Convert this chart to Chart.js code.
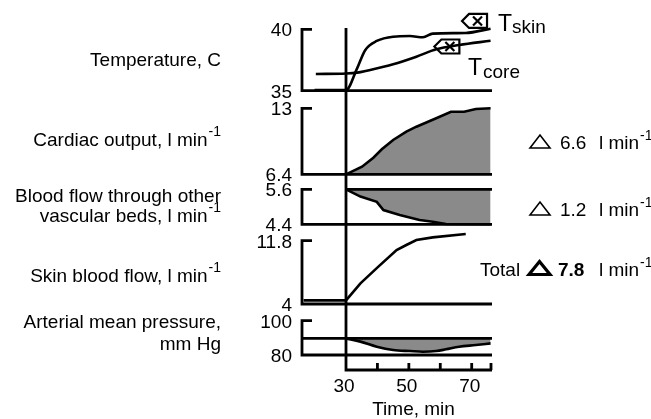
<!DOCTYPE html>
<html>
<head>
<meta charset="utf-8">
<style>
html,body{margin:0;padding:0;background:#fff;}
</style>
<script src="https://cdn.jsdelivr.net/npm/chart.js@4"></script>
</head>
<body>
<canvas id="myChart" width="651" height="419"></canvas>
<script>
'use strict'
// values, time in min
let tempTicks=[35,40];
let cardiacTicks=[6.4,13];
let otherTicks=[4.4,5.6];
let skinTicks=[4,11.8];
let pressureTicks=[80,100];

let timeTicks=[30,40,50,60,70];
let timeLabels=[30,50,70];
let heatStart=30;

let tSkinTime=[20,30,33.5,36.1,39.8,45,50.3,54.5,57.6,68.1,76];
let tSkinVal=[35.05,35.05,36.8,38.3,39.05,39.4,39.45,39.35,39.65,39.7,40.05];

let tCoreTime=[20.4,30,33.5,37.7,45,52.4,58.7,66,76];
let tCoreVal=[36.36,36.4,36.47,36.69,37.15,37.77,38.37,38.72,39.07];

let cardiacTime=[30,35.1,38.7,41.4,45,49.2,52.4,58.7,63.4,67.6,71.3,76];
let cardiacVal=[6.4,7.16,8.06,8.9,9.83,10.66,11.16,12.0,12.66,12.66,12.93,13.0];

let otherTime=[30,34.6,39.8,41.9,47.1,53.4,57.6,61.8,76];
let otherVal=[5.6,5.35,5.17,4.89,4.72,4.55,4.49,4.41,4.4];

let skinTime=[16.5,30,34.6,40.3,46.1,49.2,52.4,57.6,68.1];
let skinVal=[4.45,4.45,6.55,8.6,10.65,11.27,11.88,12.21,12.62];

let pressureBase=89.7;
let pressureTime=[30,34.6,39.8,45,50.3,54.5,58.7,61.8,66,71.3,76];
let pressureVal=[89.7,87.8,84.8,82.9,82.3,81.9,82.3,83.3,84.8,85.8,86.8];

let tagSkin={x:70.9,y:40.68};
let tagCore={x:62.1,y:38.6};

let deltaCardiac='6.6';
let deltaOther='1.2';
let deltaTotal='7.8';

//--------------------------------------
// layout of the figure (pixels)
let area={left:302,right:492,top:10,bottom:370};
let xAnchor={v:[30,70],px:[346,471.7]};
let panels=[
  {id:'yT',ticks:tempTicks,px:[90.7,29.3]},
  {id:'yC',ticks:cardiacTicks,px:[174.3,108.3]},
  {id:'yO',ticks:otherTicks,px:[224.3,189.3]},
  {id:'yS',ticks:skinTicks,px:[304,240.7]},
  {id:'yP',ticks:pressureTicks,px:[355,320.7]}
];
let leftLabels=[
  {y:66,text:'Temperature, C',sup:''},
  {y:146,text:'Cardiac output, l min',sup:'-1'},
  {y:201.5,text:'Blood flow through other',sup:''},
  {y:221.5,text:'vascular beds, l min',sup:'-1'},
  {y:281.5,text:'Skin blood flow, l min',sup:'-1'},
  {y:328,text:'Arterial mean pressure,',sup:''},
  {y:350,text:'mm Hg',sup:''}
];
let FONT='"Liberation Sans", Arial, Helvetica, sans-serif';
let GRAY='#8a8a8a';

function fitY(ticks,px){
  let k=(px[0]-px[1])/(ticks[1]-ticks[0]);
  return {type:'linear',display:false,min:ticks[0]-(area.bottom-px[0])/k,max:ticks[1]+(px[1]-area.top)/k};
}
function fitX(){
  let k=(xAnchor.px[1]-xAnchor.px[0])/(xAnchor.v[1]-xAnchor.v[0]);
  return {type:'linear',display:false,min:xAnchor.v[0]-(xAnchor.px[0]-area.left)/k,max:xAnchor.v[0]+(area.right-xAnchor.px[0])/k};
}
function pts(t,v){
  let out=[];
  for(let i=0;i<t.length;i++){ out.push({x:t[i],y:v[i]}); }
  return out;
}
function line(data,axis,extra){
  return Object.assign({data:data,yAxisID:axis,borderColor:'#000',borderWidth:2.6,pointRadius:0,fill:false,tension:0},extra||{});
}

function tag(ctx,cx,cy){
  ctx.beginPath();
  ctx.moveTo(cx-12.5,cy);
  ctx.lineTo(cx-5.5,cy-7);
  ctx.lineTo(cx+12.5,cy-7);
  ctx.lineTo(cx+12.5,cy+7);
  ctx.lineTo(cx-5.5,cy+7);
  ctx.closePath();
  ctx.stroke();
  ctx.beginPath();
  ctx.moveTo(cx-1.5,cy-4.5); ctx.lineTo(cx+7.5,cy+4.5);
  ctx.moveTo(cx+7.5,cy-4.5); ctx.lineTo(cx-1.5,cy+4.5);
  ctx.stroke();
}
function triangle(ctx,x,base,w,h,lw){
  ctx.lineWidth=lw;
  ctx.lineJoin='miter';
  ctx.beginPath();
  ctx.moveTo(x,base); ctx.lineTo(x+w/2,base-h); ctx.lineTo(x+w,base); ctx.closePath();
  ctx.stroke();
}
function unit(ctx,x,base){
  ctx.font='19px '+FONT;
  ctx.textAlign='left';
  ctx.fillText('l min',x,base);
  let w=ctx.measureText('l min').width;
  ctx.font='14px '+FONT;
  ctx.fillText('-1',x+w+1,base-9);
}

const figurePlugin={
  id:'figure',
  afterDatasetsDraw(chart){
    let ctx=chart.ctx, ca=chart.chartArea, xs=chart.scales.x;
    ctx.save();
    ctx.strokeStyle='#000';
    ctx.fillStyle='#000';
    ctx.lineWidth=2.8;
    ctx.lineCap='butt';
    ctx.textBaseline='alphabetic';

    // brackets, baselines and tick labels of each panel
    panels.forEach(function(p){
      let s=chart.scales[p.id];
      let yTop=s.getPixelForValue(p.ticks[1]);
      let yBot=s.getPixelForValue(p.ticks[0]);
      ctx.beginPath();
      ctx.moveTo(ca.left+10,yTop);
      ctx.lineTo(ca.left,yTop);
      ctx.lineTo(ca.left,yBot);
      ctx.lineTo(ca.right,yBot);
      ctx.stroke();
      ctx.font='19px '+FONT;
      ctx.textAlign='right';
      p.ticks.forEach(function(v){
        ctx.fillText(String(v),ca.left-10,s.getPixelForValue(v)+7);
      });
    });

    // top line of the other-beds panel and pressure reference
    let yO=chart.scales.yO, yP=chart.scales.yP;
    ctx.beginPath();
    ctx.moveTo(xs.getPixelForValue(heatStart),yO.getPixelForValue(otherTicks[1]));
    ctx.lineTo(ca.right,yO.getPixelForValue(otherTicks[1]));
    ctx.moveTo(ca.left,yP.getPixelForValue(pressureBase));
    ctx.lineTo(ca.right,yP.getPixelForValue(pressureBase));
    ctx.stroke();

    // start of heating and time axis
    let x30=xs.getPixelForValue(heatStart);
    ctx.beginPath();
    ctx.moveTo(x30,chart.scales.yT.getPixelForValue(40.1));
    ctx.lineTo(x30,ca.bottom);
    ctx.lineTo(ca.right,ca.bottom);
    timeTicks.forEach(function(t){
      ctx.moveTo(xs.getPixelForValue(t),ca.bottom);
      ctx.lineTo(xs.getPixelForValue(t),ca.bottom-7);
    });
    ctx.moveTo(ca.right-1,ca.bottom);
    ctx.lineTo(ca.right-1,ca.bottom-7);
    ctx.stroke();
    ctx.font='19px '+FONT;
    ctx.textAlign='center';
    timeLabels.forEach(function(t){
      ctx.fillText(String(t),xs.getPixelForValue(t)-2,392);
    });
    ctx.fillText('Time, min',xs.getPixelForValue(51.5),415);

    // legend tags for the temperatures
    let yT=chart.scales.yT;
    ctx.lineWidth=2.2;
    tag(ctx,xs.getPixelForValue(tagSkin.x),yT.getPixelForValue(tagSkin.y));
    tag(ctx,xs.getPixelForValue(tagCore.x),yT.getPixelForValue(tagCore.y));
    ctx.textAlign='left';
    ctx.font='23px '+FONT;
    ctx.fillText('T',498,31);
    ctx.fillText('T',468,75);
    ctx.font='19px '+FONT;
    ctx.fillText('skin',512,33);
    ctx.fillText('core',483,78);

    // panel names on the left
    leftLabels.forEach(function(l){
      ctx.font='19px '+FONT;
      let w=ctx.measureText(l.text).width;
      let sw=0;
      if(l.sup){ ctx.font='14px '+FONT; sw=ctx.measureText(l.sup).width+1; }
      let x=221-w-sw;
      ctx.font='19px '+FONT;
      ctx.textAlign='left';
      ctx.fillText(l.text,x,l.y);
      if(l.sup){ ctx.font='14px '+FONT; ctx.fillText(l.sup,x+w+1,l.y-10); }
    });

    // changes on the right
    ctx.textAlign='left';
    triangle(ctx,530,148,20,13,1.6);
    ctx.font='19px '+FONT;
    ctx.fillText(deltaCardiac,560,149);
    unit(ctx,599,149);
    triangle(ctx,530,215,20,13,1.6);
    ctx.font='19px '+FONT;
    ctx.fillText(deltaOther,560,216);
    unit(ctx,599,216);
    ctx.font='19px '+FONT;
    ctx.fillText('Total',480,276);
    triangle(ctx,529,274.5,21,13,3.2);
    ctx.font='bold 19px '+FONT;
    ctx.fillText(deltaTotal,558,276);
    unit(ctx,599,276);

    ctx.restore();
  }
};

let scales={x:fitX()};
panels.forEach(function(p){ scales[p.id]=fitY(p.ticks,p.px); });

let ctx=document.getElementById('myChart').getContext('2d');
let myChart=new Chart(ctx,{
  type:'line',
  data:{
    datasets:[
      line(pts(tSkinTime,tSkinVal),'yT',{cubicInterpolationMode:'monotone'}),
      line(pts(tCoreTime,tCoreVal),'yT',{cubicInterpolationMode:'monotone'}),
      line(pts(cardiacTime,cardiacVal),'yC',{fill:{value:cardiacTicks[0]},backgroundColor:GRAY}),
      line(pts(otherTime,otherVal),'yO',{fill:{value:otherTicks[1]},backgroundColor:GRAY}),
      line(pts(skinTime,skinVal),'yS'),
      line(pts(pressureTime,pressureVal),'yP',{fill:{value:pressureBase},backgroundColor:GRAY,cubicInterpolationMode:'monotone'})
    ]
  },
  options:{
    responsive:false,
    animation:false,
    devicePixelRatio:1,
    layout:{padding:{left:area.left,right:651-area.right,top:area.top,bottom:419-area.bottom}},
    plugins:{legend:{display:false},tooltip:{enabled:false}},
    scales:scales
  },
  plugins:[figurePlugin]
});
</script>
</body>
</html>
